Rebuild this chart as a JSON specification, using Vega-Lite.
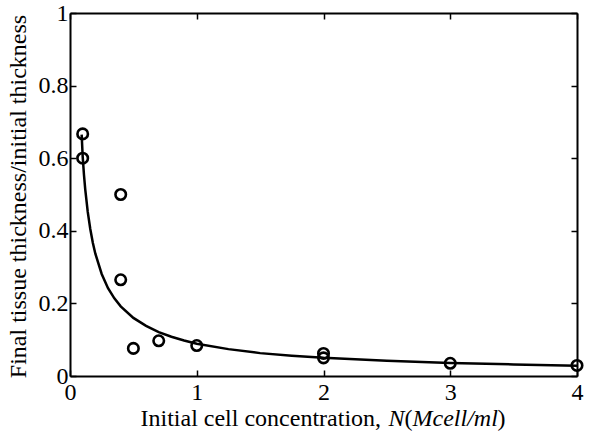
{
  "$schema": "https://vega.github.io/schema/vega-lite/v6.json",
  "width": 507,
  "height": 363,
  "autosize": {"type": "none"},
  "padding": {"left": 70, "top": 13, "right": 23, "bottom": 58},
  "background": "white",
  "config": {
    "view": {"stroke": null},
    "font": "Liberation Serif",
    "axis": {
      "grid": false,
      "domainColor": "black",
      "domainWidth": 2,
      "tickColor": "black",
      "tickWidth": 1.5,
      "tickSize": -6,
      "labelFlush": false,
      "labelOverlap": false,
      "labelFont": "Liberation Serif",
      "labelFontSize": 24,
      "labelColor": "black",
      "titleFont": "Liberation Serif",
      "titleFontSize": 24,
      "titleFontWeight": "normal",
      "titleColor": "black"
    }
  },
  "datasets": {
    "pts": [
      {"N": 0.1, "ratio": 0.667},
      {"N": 0.1, "ratio": 0.6},
      {"N": 0.4, "ratio": 0.5},
      {"N": 0.4, "ratio": 0.265},
      {"N": 0.5, "ratio": 0.076},
      {"N": 0.7, "ratio": 0.097},
      {"N": 1.0, "ratio": 0.084},
      {"N": 2.0, "ratio": 0.062},
      {"N": 2.0, "ratio": 0.05},
      {"N": 3.0, "ratio": 0.035},
      {"N": 4.0, "ratio": 0.029}
    ],
    "curve": [
      {"N": 0.092, "ratio": 0.665},
      {"N": 0.1, "ratio": 0.605},
      {"N": 0.11, "ratio": 0.555},
      {"N": 0.12, "ratio": 0.515},
      {"N": 0.14, "ratio": 0.452},
      {"N": 0.16, "ratio": 0.405},
      {"N": 0.18, "ratio": 0.367},
      {"N": 0.2, "ratio": 0.337},
      {"N": 0.25, "ratio": 0.281},
      {"N": 0.3, "ratio": 0.242},
      {"N": 0.35, "ratio": 0.214},
      {"N": 0.4, "ratio": 0.192},
      {"N": 0.5, "ratio": 0.16},
      {"N": 0.6, "ratio": 0.138},
      {"N": 0.7, "ratio": 0.121},
      {"N": 0.8, "ratio": 0.108},
      {"N": 0.9, "ratio": 0.098},
      {"N": 1.0, "ratio": 0.089},
      {"N": 1.25, "ratio": 0.074},
      {"N": 1.5, "ratio": 0.063},
      {"N": 1.75, "ratio": 0.056},
      {"N": 2.0, "ratio": 0.05},
      {"N": 2.5, "ratio": 0.042},
      {"N": 3.0, "ratio": 0.036},
      {"N": 3.5, "ratio": 0.032},
      {"N": 4.0, "ratio": 0.028}
    ]
  },
  "resolve": {"axis": {"x": "independent", "y": "independent"}},
  "layer": [
    {
      "data": {"name": "curve"},
      "mark": {"type": "line", "color": "black", "strokeWidth": 2.5, "clip": true},
      "encoding": {
        "x": {"field": "N", "type": "quantitative", "scale": {"domain": [0, 4], "nice": false},
              "axis": {"orient": "top", "labels": false, "title": null, "values": [0, 1, 2, 3, 4]}},
        "y": {"field": "ratio", "type": "quantitative", "scale": {"domain": [0, 1], "nice": false},
              "axis": {"orient": "right", "labels": false, "title": null, "values": [0, 0.2, 0.4, 0.6, 0.8, 1]}}
      }
    },
    {
      "data": {"name": "pts"},
      "mark": {"type": "point", "shape": "circle", "size": 110, "strokeWidth": 2.6, "color": "black", "filled": false, "opacity": 1},
      "encoding": {
        "x": {"field": "N", "type": "quantitative",
              "axis": {"orient": "bottom", "values": [0, 1, 2, 3, 4], "format": "~g", "labelPadding": 10,
                       "title": "Initial cell concentration,", "titleX": 70, "titleY": 49, "titleAlign": "left", "titleBaseline": "alphabetic"}},
        "y": {"field": "ratio", "type": "quantitative",
              "axis": {"orient": "left", "values": [0, 0.2, 0.4, 0.6, 0.8, 1], "format": "~g", "labelPadding": 8,
                       "title": "Final tissue thickness/initial thickness", "titleX": -45, "titleY": 183, "titleAlign": "center", "titleBaseline": "alphabetic", "titleAngle": 270}}
      }
    },
    {
      "data": {"name": "pts"},
      "mark": {"type": "point", "opacity": 0},
      "encoding": {
        "x": {"field": "N", "type": "quantitative",
              "axis": {"orient": "bottom", "domain": false, "ticks": false, "labels": false,
                       "title": "N", "titleFontStyle": "italic", "titleX": 318, "titleY": 49, "titleAlign": "left", "titleBaseline": "alphabetic"}},
        "y": {"field": "ratio", "type": "quantitative", "axis": null}
      }
    },
    {
      "data": {"name": "pts"},
      "mark": {"type": "point", "opacity": 0},
      "encoding": {
        "x": {"field": "N", "type": "quantitative",
              "axis": {"orient": "bottom", "domain": false, "ticks": false, "labels": false,
                       "title": "(", "titleX": 334, "titleY": 49, "titleAlign": "left", "titleBaseline": "alphabetic"}},
        "y": {"field": "ratio", "type": "quantitative", "axis": null}
      }
    },
    {
      "data": {"name": "pts"},
      "mark": {"type": "point", "opacity": 0},
      "encoding": {
        "x": {"field": "N", "type": "quantitative",
              "axis": {"orient": "bottom", "domain": false, "ticks": false, "labels": false,
                       "title": "Mcell/ml", "titleFontStyle": "italic", "titleX": 342, "titleY": 49, "titleAlign": "left", "titleBaseline": "alphabetic"}},
        "y": {"field": "ratio", "type": "quantitative", "axis": null}
      }
    },
    {
      "data": {"name": "pts"},
      "mark": {"type": "point", "opacity": 0},
      "encoding": {
        "x": {"field": "N", "type": "quantitative",
              "axis": {"orient": "bottom", "domain": false, "ticks": false, "labels": false,
                       "title": ")", "titleX": 427, "titleY": 49, "titleAlign": "left", "titleBaseline": "alphabetic"}},
        "y": {"field": "ratio", "type": "quantitative", "axis": null}
      }
    }
  ]
}
